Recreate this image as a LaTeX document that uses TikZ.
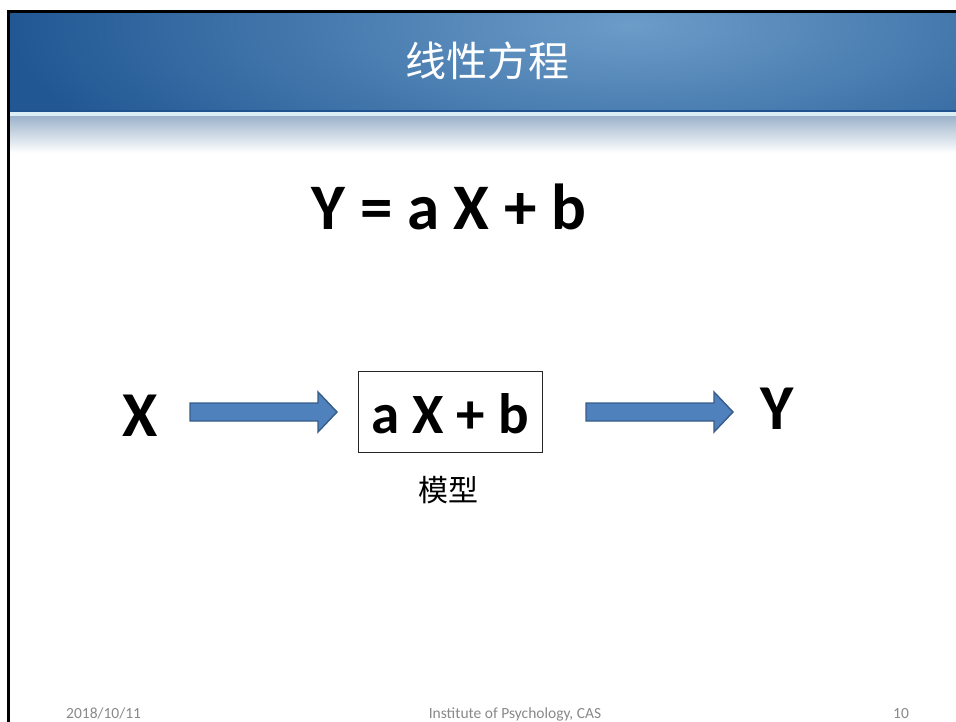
\documentclass[tikz,border=0pt]{standalone}
\usepackage{fontspec}
\setmainfont{Carlito}
\newfontfamily\cjk{Noto Sans CJK SC}
\usetikzlibrary{calc}
\definecolor{bannerbase}{HTML}{215894}
\definecolor{bannerlight}{HTML}{6C9CC8}
\definecolor{bannerbottom}{HTML}{1E5390}
\definecolor{sepline}{HTML}{DCEEF5}
\definecolor{fadetop}{HTML}{9FB5CC}
\definecolor{arrowfill}{HTML}{4F81BD}
\definecolor{arrowline}{HTML}{385D8A}
\definecolor{footgray}{HTML}{898989}
\tikzset{
  txt/.style={inner sep=0pt, anchor=base},
  bigbold/.style={txt, font=\fontsize{64}{76}\selectfont\bfseries},
  eqbold/.style={txt, font=\fontsize{65}{78}\selectfont\bfseries},
  boxbold/.style={anchor=base, inner sep=0pt, draw=black!85, line width=1pt,
    text height=62pt, text depth=19pt, minimum width=184pt,
    font=\fontsize{57}{68}\selectfont\bfseries},
  foot/.style={txt, text=footgray, font=\fontsize{15.5}{18}\selectfont},
  barrow/.style={fill=arrowfill, draw=arrowline, line width=1.4pt, line join=miter},
}
\begin{document}
\begin{tikzpicture}[x=1pt,y=-1pt]
\useasboundingbox (0,0) rectangle (956,722);
\fill[white] (0,0) rectangle (956,722);
% banner
\fill[bannerbase] (10,13) rectangle (956,112);
\begin{scope}
  \clip (10,13) rectangle (956,110);
  \shade[inner color=bannerlight, outer color=bannerbase] (630,25) ellipse (620 and 200);
\end{scope}
\fill[bannerbottom] (10,110) rectangle (956,112);
\fill[sepline] (10,112) rectangle (956,117);
\shade[top color=fadetop, bottom color=white] (10,117) rectangle (956,153);
% frame lines
\draw[black, line width=3pt] (8.5,722) -- (8.5,11.5) -- (956,11.5);
% title
\node[inner sep=0pt, text=white, font=\cjk\fontsize{41}{48}\selectfont] (title) at (487,61) {线性方程};
% equation
\node[eqbold] (eq) at (449,230) {Y = a X + b};
% diagram
\node[bigbold] (X) at (140.5,436) {X};
\node[boxbold] (box) at (450,433) {a X + b};
\node[bigbold] (Y) at (777.5,429) {Y};
\node[inner sep=0pt, font=\cjk\fontsize{30}{36}\selectfont] (model) at (448,490) {模型};
\coordinate (a1s) at (190,412);
\coordinate (a1e) at (337,412);
\coordinate (a2s) at (586,412);
\coordinate (a2e) at (733,412);
\draw[barrow] ($(a1s)+(0,-9)$) -- ($(a1e)+(-19,-9)$) -- ($(a1e)+(-19,-20)$) -- (a1e)
  -- ($(a1e)+(-19,20)$) -- ($(a1e)+(-19,9)$) -- ($(a1s)+(0,9)$) -- cycle;
\draw[barrow] ($(a2s)+(0,-9)$) -- ($(a2e)+(-19,-9)$) -- ($(a2e)+(-19,-20)$) -- (a2e)
  -- ($(a2e)+(-19,20)$) -- ($(a2e)+(-19,9)$) -- ($(a2s)+(0,9)$) -- cycle;
% footer
\node[foot, anchor=base west] (date) at (66,718) {2018/10/11};
\node[foot] (inst) at (515,718) {Institute of Psychology, CAS};
\node[foot] (page) at (901,718) {10};
\end{tikzpicture}
\end{document}
